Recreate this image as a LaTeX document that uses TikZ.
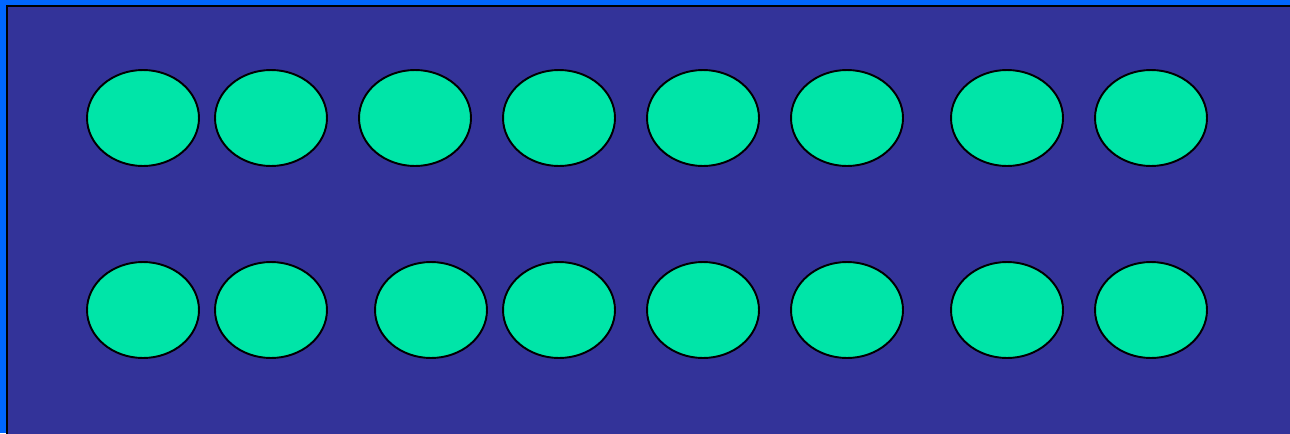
\documentclass[tikz,border=0pt]{standalone}
\usepackage{xcolor}
\usetikzlibrary{shapes.geometric}

\definecolor{edgeblue}{HTML}{0066FF}
\definecolor{panel}{HTML}{333399}
\definecolor{mint}{HTML}{00E5A8}

\begin{document}
\begin{tikzpicture}[
  x=0.02cm, y=-0.02cm,
  disc/.style={
    draw=black, line width=1.1pt, ellipse, fill=mint,
    minimum width=2.24cm, minimum height=1.92cm,
    inner sep=0pt
  },
]
\fill[edgeblue] (0,0) rectangle (1290,433);
\useasboundingbox (0,0) rectangle (1290,433);
\fill[panel] (7,6) rectangle (1292,435);
\draw[black, line width=1.4pt] (7,440) -- (7,6) -- (1295,6);
% upper row
\node[disc] (t1) at (143, 118) {};
\node[disc] (t2) at (271, 118) {};
\node[disc] (t3) at (415, 118) {};
\node[disc] (t4) at (559, 118) {};
\node[disc] (t5) at (703, 118) {};
\node[disc] (t6) at (847, 118) {};
\node[disc] (t7) at (1007, 118) {};
\node[disc] (t8) at (1151, 118) {};
% lower row
\node[disc] (b1) at (143, 310) {};
\node[disc] (b2) at (271, 310) {};
\node[disc] (b3) at (431, 310) {};
\node[disc] (b4) at (559, 310) {};
\node[disc] (b5) at (703, 310) {};
\node[disc] (b6) at (847, 310) {};
\node[disc] (b7) at (1007, 310) {};
\node[disc] (b8) at (1151, 310) {};
\end{tikzpicture}
\end{document}
